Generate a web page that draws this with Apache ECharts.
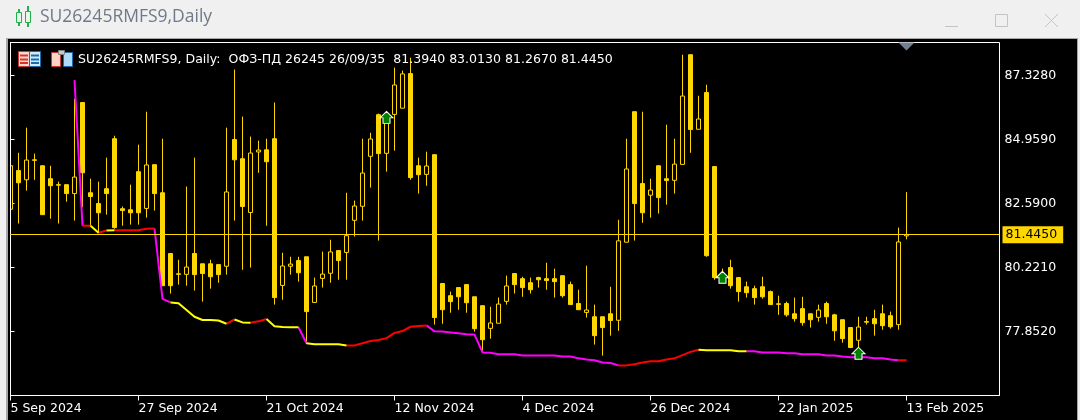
<!DOCTYPE html>
<html>
<head>
<meta charset="utf-8">
<title>SU26245RMFS9,Daily</title>
<script src="https://cdn.jsdelivr.net/npm/echarts@6/dist/echarts.min.js"></script>
<style>
html,body{margin:0;padding:0;background:#f0f0f0;}
#chart{width:1080px;height:420px;}
</style>
</head>
<body>
<div id="chart"></div>
<script>
// daily bars, left to right
var opens = [82.38,83.81,83.47,84.21,83.99,83.51,83.29,83.29,82.96,86.33,
82.99,82.59,83.14,84.99,82.40,82.36,83.77,82.41,84.03,82.99,
80.74,79.99,79.97,80.74,80.36,80.36,80.33,80.27,84.96,84.25,
82.26,84.50,84.58,84.99,79.56,80.27,80.48,80.62,78.93,79.82,
80.01,80.85,80.78,81.97,82.49,84.34,85.88,84.45,85.89,86.12,
87.40,83.99,83.67,84.40,79.63,79.18,79.48,79.59,79.14,78.81,
77.97,78.16,78.97,80.00,79.81,79.66,79.85,79.81,79.81,79.92,
79.59,78.89,78.56,78.40,78.40,78.51,78.27,81.16,85.99,83.33,
82.90,83.99,83.51,83.45,84.04,88.10,85.34,86.70,83.96,79.96,
80.22,79.85,79.51,79.44,79.51,79.33,78.88,78.89,78.51,78.70,
78.51,78.38,78.89,78.47,78.29,78.00,77.53,78.22,78.33,78.51,
78.44,78.11,81.394];
var closes = [83.99,83.36,84.20,84.19,82.18,83.25,83.27,82.96,83.57,83.73,
82.85,82.25,82.96,81.70,82.33,82.25,82.25,84.02,82.96,79.55,
79.55,79.97,80.24,79.96,80.00,79.88,79.96,83.02,84.21,82.48,
84.46,84.57,84.14,79.11,80.28,80.35,80.03,78.59,79.54,79.98,
80.80,80.48,81.40,82.50,83.72,84.98,84.44,85.88,86.98,87.39,
83.55,83.66,83.98,78.37,78.66,78.96,79.14,78.92,77.96,77.55,
78.17,78.87,79.54,79.59,79.48,79.40,79.77,79.74,79.70,79.18,
78.85,78.66,78.65,77.70,78.00,78.26,81.21,83.87,82.59,82.25,
83.09,82.81,83.44,84.05,86.57,85.33,85.72,80.66,79.85,79.74,
79.55,79.33,79.29,79.11,79.14,78.85,78.86,78.47,78.33,78.18,
78.29,78.65,78.40,77.88,77.59,77.26,78.02,78.20,78.14,78.07,
78.03,81.17,81.445];
var lows = [82.38,81.85,83.07,83.47,82.18,82.03,81.85,82.66,81.96,82.45,
81.77,81.49,82.18,81.66,81.77,81.81,81.81,82.07,82.33,79.55,
79.26,79.59,79.55,79.37,78.96,79.44,79.66,79.96,81.96,80.14,
80.22,83.73,81.77,78.85,79.03,79.96,79.70,77.39,78.93,79.48,
79.66,79.77,79.77,81.37,81.96,83.18,81.22,83.77,84.55,86.12,
83.47,82.96,83.25,78.11,78.14,78.55,78.66,78.55,77.85,77.14,
77.59,78.16,78.85,79.26,79.14,79.26,79.48,79.40,79.11,79.11,
78.85,78.66,78.37,77.37,76.96,77.70,77.88,81.16,81.22,81.88,
82.07,82.22,82.55,82.96,84.04,84.47,85.34,80.62,79.77,79.67,
79.44,78.96,79.11,78.85,79.07,78.85,78.47,78.40,78.22,78.07,
78.00,78.22,78.14,77.51,77.44,77.26,77.14,78.11,77.70,77.92,
77.96,77.92,81.267];
var highs = [83.99,84.47,85.40,84.44,83.99,83.99,83.40,83.29,86.47,86.33,
83.51,83.40,84.29,85.10,82.48,83.29,84.77,85.99,84.03,84.99,
80.74,80.51,83.22,84.29,80.36,80.51,80.33,85.40,87.55,85.81,
85.07,84.92,84.99,86.33,80.77,80.62,80.62,80.62,79.85,80.81,
81.25,80.85,82.99,82.70,84.99,85.21,85.92,85.99,87.62,87.51,
87.99,84.29,84.51,84.40,79.63,79.33,79.48,79.59,79.14,78.81,
78.77,79.11,79.92,80.00,79.88,79.85,79.88,80.40,80.18,79.92,
79.70,79.40,80.29,78.85,78.40,79.51,81.99,84.99,85.99,85.99,
83.51,83.99,85.51,84.99,88.10,88.10,86.58,86.99,83.96,80.18,
80.51,79.85,79.70,79.55,79.88,79.37,79.18,78.96,79.11,79.14,
78.51,78.85,78.96,78.51,78.29,78.00,78.40,78.40,78.66,78.85,
78.59,81.70,83.013];

// indicator line, first value sits on bar 8
var lineStart = 8;
var lineValues = [87.16,81.77,81.77,81.51,81.59,81.60,81.60,81.60,81.60,81.66,81.67,
79.06,78.93,78.90,78.65,78.40,78.28,78.28,78.26,78.14,78.30,78.19,78.18,78.23,78.32,
78.05,78.02,78.01,78.01,77.42,77.38,77.38,77.38,77.38,77.34,77.34,77.42,77.50,77.54,
77.61,77.80,77.87,78.03,78.06,78.08,77.86,77.85,77.82,77.79,77.75,77.74,77.08,77.07,
77.01,77.01,77.01,76.97,76.97,76.97,76.97,76.97,76.93,76.93,76.86,76.82,76.79,76.71,
76.69,76.60,76.60,76.64,76.71,76.75,76.75,76.82,76.86,76.98,77.10,77.18,77.16,77.16,
77.16,77.16,77.12,77.12,77.12,77.08,77.08,77.08,77.05,77.05,77.01,77.01,77.01,76.97,
76.97,76.93,76.90,76.90,76.90,76.86,76.86,76.82,76.79,76.79];
// colour runs of the line: [from bar, to bar]
var magentaRuns = [[8,9],[18,20],[36,37],[52,76],[92,111]];
var redRuns = [[9,10],[11,12],[13,18],[27,28],[30,32],[42,52],[76,86],[111,112]];
var yellowRuns = [[10,11],[12,13],[20,27],[28,30],[32,36],[37,42],[86,92]];

// buy arrows
var arrowBars = [47,89,106];
var arrowPrices = [85.78,79.86,77.05];

var lastPrice = 81.445;
var yTicks = [77.852,80.221,82.59,84.959,87.328];
var xTicks = [0,16,32,48,64,80,96,112];
var xLabels = ['5 Sep 2024','27 Sep 2024','21 Oct 2024','12 Nov 2024','4 Dec 2024','26 Dec 2024','22 Jan 2025','13 Feb 2025'];
var infoText = 'SU26245RMFS9, Daily:  ОФЗ-ПД 26245 26/09/35  81.3940 83.0130 81.2670 81.4450';

var GOLD = '#FFD700';
var yMin = 75.4852, yMax = 88.5521;
var labelFont = 'DejaVu Sans';

var candleData = opens.map(function (o, i) {
    return [i, o, closes[i], lows[i], highs[i]];
});

// one line series per colour, ['-','-'] breaks it between runs
function runData(runs) {
    var out = [];
    runs.forEach(function (run) {
        for (var i = run[0]; i <= run[1]; i++) {
            out.push([i, lineValues[i - lineStart]]);
        }
        out.push(['-', '-']);
    });
    return out;
}
function lineSeries(runs, color) {
    return {
        type: 'line', data: runData(runs), symbol: 'none', z: 3, silent: true,
        connectNulls: false,
        lineStyle: { color: color, width: 2 }
    };
}

function box(x, y, w, h, fill, stroke, z) {
    return { type: 'rect', shape: { x: x, y: y, width: w, height: h }, z: z === undefined ? 5 : z, silent: true,
        style: { fill: fill || 'none', stroke: stroke || 'none', lineWidth: 1 } };
}
function seg(x1, y1, x2, y2, color, w) {
    return { type: 'line', shape: { x1: x1, y1: y1, x2: x2, y2: y2 }, z: 5, silent: true,
        style: { stroke: color, lineWidth: w || 1 } };
}

var chrome = [
    // window frame behind the plot
    box(6, 38, 1072, 382, '#a6a6a6', null, -3),
    box(8, 39, 1069, 381, '#000000', null, -2),
    // first bar is cut by the left edge of the plot
    box(8, 43, 2, 352, '#000000', null),
    seg(10.5, 42, 10.5, 396, '#ffffff'),
    // candle icon of the title bar
    seg(19, 9, 19, 26, '#22b04a', 2), box(16.5, 12.5, 5, 10, '#e8f7ea', '#22b04a'),
    seg(28, 6, 28, 27, '#22b04a', 2), box(25.5, 11.5, 5, 11, '#e8f7ea', '#22b04a'),
    // window buttons
    seg(945, 26.5, 958, 26.5, '#c4c4c4'),
    box(995.5, 14.5, 12, 12, null, '#c4c4c4'),
    seg(1045, 14, 1058, 27, '#c4c4c4'), seg(1058, 14, 1045, 27, '#c4c4c4'),
    // one click trading / depth icons on the chart
    box(18.5, 51.5, 11, 15, '#f9d7d2', '#c8372d'), box(29.5, 51.5, 11, 15, '#d3e8f7', '#1c6aa8'),
    seg(20, 55.5, 28, 55.5, '#d8352a', 2), seg(20, 59.5, 28, 59.5, '#d8352a', 2), seg(20, 63, 28, 63, '#d8352a', 2),
    seg(31, 55.5, 39, 55.5, '#1c6aa8', 2), seg(31, 59.5, 39, 59.5, '#1c6aa8', 2), seg(31, 63, 39, 63, '#1c6aa8', 2),
    box(51.5, 52.5, 9, 14, '#ffd2c8', '#c8372d'), box(63.5, 52.5, 9, 14, '#aedcf8', '#1c6aa8'),
    box(58.5, 50.5, 6, 4, '#c8c8c8', '#808080')
];

var option = {
    animation: false,
    backgroundColor: '#f0f0f0',
    title: [
        { text: 'SU26245RMFS9,Daily', left: 40, top: 8, padding: 0,
          textStyle: { fontFamily: 'Open Sans', fontSize: 17.5, fontWeight: 'normal', color: '#6f7a88' } },
        { text: infoText, left: 78, top: 53, padding: 0,
          textStyle: { fontFamily: labelFont, fontSize: 12.55, fontWeight: 'normal', color: '#ffffff' } }
    ],
    grid: { left: 10.5, top: 42.5, width: 989, height: 353, show: true, borderColor: '#ffffff', borderWidth: 1, backgroundColor: 'transparent' },
    xAxis: {
        type: 'value', min: 0, max: 989 / 8,
        splitLine: { show: false },
        axisLine: { show: true, lineStyle: { color: '#ffffff' } },
        axisTick: { show: true, length: 5, lineStyle: { color: '#ffffff' }, customValues: xTicks },
        axisLabel: {
            customValues: xTicks, color: '#ffffff', fontFamily: labelFont, fontSize: 12.5, margin: 7, align: 'left',
            formatter: function (v) { return xLabels[xTicks.indexOf(v)]; }
        }
    },
    yAxis: {
        type: 'value', position: 'right', min: yMin, max: yMax,
        splitLine: { show: false },
        axisLine: { show: true, lineStyle: { color: '#ffffff' } },
        axisTick: { show: true, length: 4, lineStyle: { color: '#ffffff' }, customValues: yTicks },
        axisLabel: {
            customValues: yTicks, color: '#ffffff', fontFamily: labelFont, fontSize: 12.5, margin: 5,
            formatter: function (v) { return v.toFixed(4); }
        }
    },
    series: [
        {
            // last price line, behind the bars
            type: 'line', data: [], z: 1, silent: true,
            markLine: {
                silent: true, symbol: ['none', 'none'], animation: false,
                lineStyle: { color: GOLD, width: 1, type: 'solid' },
                label: {
                    show: true, position: 'end', distance: 3, formatter: lastPrice.toFixed(4),
                    color: '#000000', backgroundColor: GOLD, padding: [2, 6, 2, 3],
                    fontFamily: labelFont, fontSize: 12.5
                },
                data: [{ yAxis: lastPrice }]
            }
        },
        {
            type: 'candlestick', data: candleData, barWidth: 4, z: 2, silent: true,
            encode: { x: 0, y: [1, 2, 3, 4] },
            itemStyle: { color: '#000000', color0: GOLD, borderColor: GOLD, borderColor0: GOLD, borderWidth: 1 }
        },
        lineSeries(magentaRuns, '#FF00FF'),
        lineSeries(redRuns, '#FF0000'),
        lineSeries(yellowRuns, '#FFFF00'),
        {
            type: 'scatter', z: 4, silent: true,
            data: arrowBars.map(function (b, i) { return [b, arrowPrices[i]]; }),
            symbol: 'path://M6.5 0 L13 6.5 L10 6.5 L10 12 L3 12 L3 6.5 L0 6.5 Z',
            symbolSize: [13, 12],
            itemStyle: { color: '#008000', borderColor: '#ffffff', borderWidth: 1, opacity: 1 }
        },
        {
            // small marker on the top frame over the last bar
            type: 'scatter', z: 4, silent: true, clip: false,
            data: [[112, yMax]],
            symbol: 'path://M0 0 L16 0 L8 8 Z', symbolSize: [16, 8], symbolOffset: [0, 4],
            itemStyle: { color: '#708090', opacity: 1 }
        }
    ],
    graphic: chrome
};

var myChart = echarts.init(document.getElementById('chart'), null, { renderer: 'canvas' });
myChart.setOption(option);
</script>
</body>
</html>
